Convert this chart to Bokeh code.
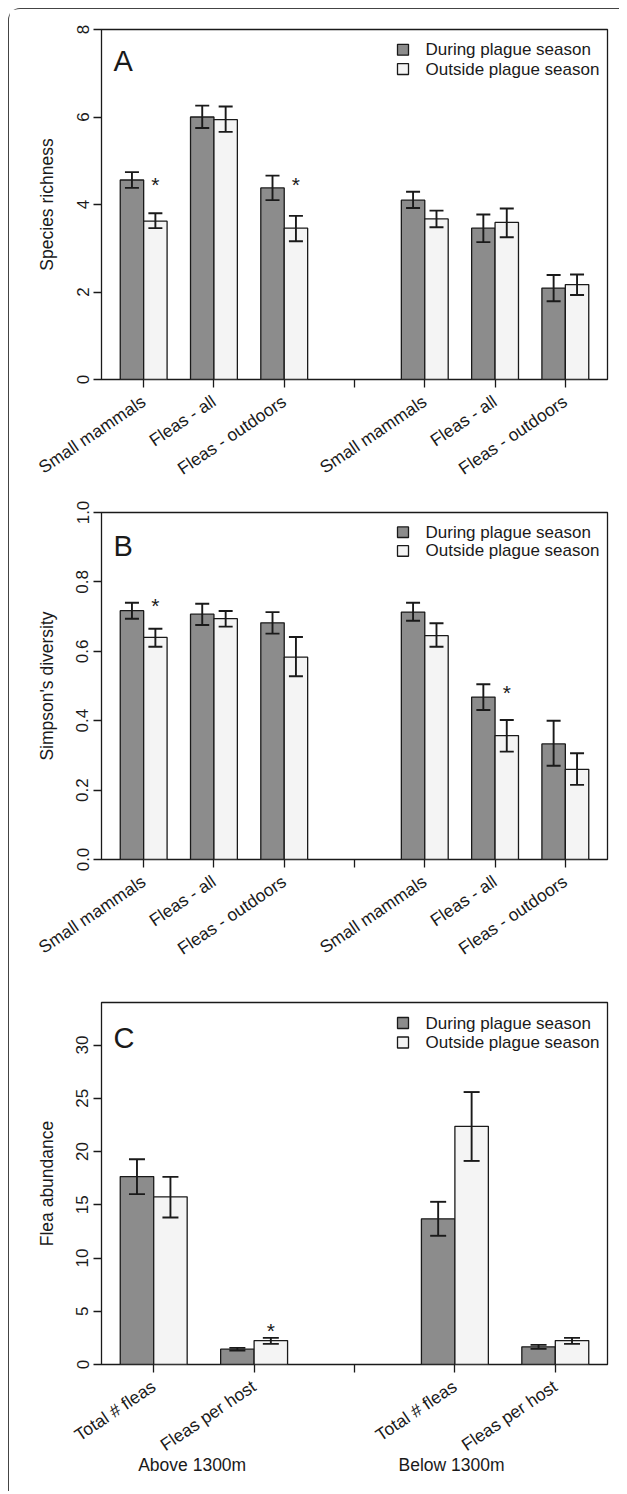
import math
from bokeh.plotting import figure
from bokeh.models import Range1d, FixedTicker, LinearAxis, CustomJSTickFormatter
from bokeh.layouts import column
from bokeh.embed import file_html
from bokeh.resources import INLINE
from bokeh.core.properties import value

FONT = "Liberation Sans"
DARK = "#8c8c8c"
LIGHT = "#f4f4f4"
INK = "#1a1a1a"

series_names = ["During plague season", "Outside plague season"]

# ---------------- Panel A : species richness ----------------
a_categories = ["Small mammals", "Fleas - all", "Fleas - outdoors", "",
                "Small mammals", "Fleas - all", "Fleas - outdoors"]
a_during = [4.56, 6.00, 4.38, None, 4.10, 3.46, 2.09]
a_during_lo = [4.38, 5.75, 4.10, None, 3.92, 3.14, 1.79]
a_during_hi = [4.74, 6.26, 4.66, None, 4.29, 3.77, 2.39]
a_outside = [3.62, 5.94, 3.46, None, 3.67, 3.59, 2.17]
a_outside_lo = [3.46, 5.66, 3.16, None, 3.48, 3.25, 1.93]
a_outside_hi = [3.80, 6.24, 3.74, None, 3.86, 3.91, 2.40]
a_star_group = [0, 2]
a_star_y = [4.57, 4.57]
a_yticks = [0, 2, 4, 6, 8]

# ---------------- Panel B : Simpson's diversity ----------------
b_categories = a_categories
b_during = [0.717, 0.707, 0.682, None, 0.713, 0.468, 0.333]
b_during_lo = [0.694, 0.676, 0.651, None, 0.688, 0.431, 0.270]
b_during_hi = [0.740, 0.737, 0.713, None, 0.740, 0.505, 0.400]
b_outside = [0.640, 0.694, 0.583, None, 0.645, 0.357, 0.260]
b_outside_lo = [0.613, 0.671, 0.528, None, 0.613, 0.311, 0.215]
b_outside_hi = [0.665, 0.716, 0.641, None, 0.681, 0.402, 0.306]
b_star_group = [0, 5]
b_star_y = [0.747, 0.496]
b_yticks = [0.0, 0.2, 0.4, 0.6, 0.8, 1.0]

# ---------------- Panel C : flea abundance ----------------
c_categories = ["Total # fleas", "Fleas per host", "", "Total # fleas", "Fleas per host"]
c_during = [17.65, 1.44, None, 13.68, 1.66]
c_during_lo = [16.00, 1.31, None, 12.09, 1.47]
c_during_hi = [19.28, 1.56, None, 15.28, 1.84]
c_outside = [15.75, 2.25, None, 22.37, 2.25]
c_outside_lo = [13.80, 1.94, None, 19.12, 1.94]
c_outside_hi = [17.62, 2.50, None, 25.59, 2.50]
c_star_group = [1]
c_star_y = [3.63]
c_yticks = [0, 5, 10, 15, 20, 25, 30]
c_group_labels = ["Above 1300m", "Below 1300m"]
c_group_label_pos = [3.15, 10.9]

AX_FONT = "17.5px"
LEG_FONT = "17px"


def make_panel(cats, dv, dlo, dhi, ov, olo, ohi, star_g, star_y, yticks, ymax,
               ylabel, letter, height, top, bottom, frame_h, cap_px, letter_base,
               decimals=0, group_labels=None, group_pos=None):
    n = len(cats)
    centers = [2 + 3 * i for i in range(n)]
    pad = 0.04 * (3 * n - 1)
    x0, x1 = 1 - pad, 3 * n + pad
    frame_w = 506
    p = figure(width=610, height=height, x_range=Range1d(x0, x1), y_range=Range1d(0, ymax),
               output_backend="svg", toolbar_location=None,
               min_border_left=92, min_border_right=12,
               min_border_top=top, min_border_bottom=bottom)
    p.extra_x_ranges = {"px": Range1d(0, frame_w)}
    p.extra_y_ranges = {"px": Range1d(0, frame_h)}
    p.xgrid.visible = False
    p.ygrid.visible = False
    p.background_fill_color = "white"
    p.border_fill_color = "white"
    p.outline_line_color = INK
    p.outline_line_width = 1.3
    p.outline_line_alpha = 1.0

    idx = [i for i in range(n) if dv[i] is not None]
    xd = [centers[i] - 0.5 for i in idx]
    xo = [centers[i] + 0.5 for i in idx]
    p.vbar(x=xd, top=[dv[i] for i in idx], bottom=0, width=1, fill_color=DARK,
           line_color=INK, line_width=1.3)
    p.vbar(x=xo, top=[ov[i] for i in idx], bottom=0, width=1, fill_color=LIGHT,
           line_color=INK, line_width=1.3)

    cap = cap_px / (frame_w / (x1 - x0))
    for xs, lo, hi in ((xd, [dlo[i] for i in idx], [dhi[i] for i in idx]),
                       (xo, [olo[i] for i in idx], [ohi[i] for i in idx])):
        p.segment(x0=xs, y0=lo, x1=xs, y1=hi, line_color=INK, line_width=1.9)
        p.segment(x0=[x - cap for x in xs], y0=lo, x1=[x + cap for x in xs], y1=lo,
                  line_color=INK, line_width=1.9)
        p.segment(x0=[x - cap for x in xs], y0=hi, x1=[x + cap for x in xs], y1=hi,
                  line_color=INK, line_width=1.9)

    p.text(x=[centers[g] + 0.5 for g in star_g], y=star_y, text=["*"] * len(star_g),
           text_align="center", text_baseline="middle", y_offset=5,
           text_font=value(FONT), text_font_size="21px", text_color=INK)

    # legend (positions in frame pixels)
    ly = [frame_h - 20.5, frame_h - 40]
    p.rect(x=[301.5, 301.5], y=ly, width=11, height=11, fill_color=[DARK, LIGHT],
           line_color=INK, line_width=1.3, x_range_name="px", y_range_name="px")
    p.text(x=[324, 324], y=ly, text=series_names, text_baseline="middle",
           text_font=value(FONT), text_font_size=LEG_FONT, text_color=INK,
           x_range_name="px", y_range_name="px")
    p.text(x=[12], y=[frame_h - letter_base], text=[letter], text_baseline="alphabetic",
           text_font=value(FONT), text_font_size="29px", text_color=INK,
           x_range_name="px", y_range_name="px")

    # axes
    xa = p.xaxis[0]
    xa.ticker = FixedTicker(ticks=centers)
    xa.major_label_overrides = {c: lab for c, lab in zip(centers, cats)}
    xa.major_label_orientation = 34 * math.pi / 180
    xa.major_tick_out = 8
    xa.major_tick_in = 0
    xa.minor_tick_out = 0
    xa.minor_tick_in = 0
    xa.major_tick_line_width = 1.3
    xa.major_tick_line_color = INK
    xa.axis_line_color = None
    xa.major_label_standoff = 12
    xa.major_label_text_font = FONT
    xa.major_label_text_font_size = AX_FONT
    xa.major_label_text_color = INK

    ya = p.yaxis[0]
    ya.ticker = FixedTicker(ticks=yticks)
    ya.formatter = CustomJSTickFormatter(args=dict(d=decimals), code="return tick.toFixed(d);")
    ya.major_label_orientation = "vertical"
    ya.major_tick_out = 8
    ya.major_tick_in = 0
    ya.minor_tick_out = 0
    ya.minor_tick_in = 0
    ya.major_tick_line_width = 1.3
    ya.major_tick_line_color = INK
    ya.axis_line_color = None
    ya.major_label_standoff = 5
    ya.major_label_text_font = FONT
    ya.major_label_text_font_size = "17px"
    ya.major_label_text_color = INK
    ya.axis_label = ylabel
    ya.axis_label_text_font = FONT
    ya.axis_label_text_font_size = AX_FONT
    ya.axis_label_text_font_style = "normal"
    ya.axis_label_text_color = INK
    ya.axis_label_standoff = 17

    if group_labels:
        ga = LinearAxis(ticker=FixedTicker(ticks=group_pos),
                        formatter=CustomJSTickFormatter(
                            args=dict(pos=group_pos, labels=group_labels),
                            code="for (let i = 0; i < pos.length; i++) { if (Math.abs(pos[i] - tick) < 1e-6) return labels[i]; } return '';"))
        ga.axis_line_color = None
        ga.major_tick_out = 0
        ga.major_tick_in = 0
        ga.minor_tick_out = 0
        ga.minor_tick_in = 0
        ga.major_label_standoff = -12
        ga.major_label_text_font = FONT
        ga.major_label_text_font_size = AX_FONT
        ga.major_label_text_color = INK
        p.add_layout(ga, "below")
    return p


pA = make_panel(a_categories, a_during, a_during_lo, a_during_hi, a_outside, a_outside_lo,
                a_outside_hi, a_star_group, a_star_y, a_yticks, 8, "Species richness", "A",
                height=480, top=20, bottom=106, frame_h=354, cap_px=7, letter_base=32)
pB = make_panel(b_categories, b_during, b_during_lo, b_during_hi, b_outside, b_outside_lo,
                b_outside_hi, b_star_group, b_star_y, b_yticks, 1.0, "Simpson's diversity", "B",
                height=480, top=23, bottom=96, frame_h=361, cap_px=7, letter_base=35,
                decimals=1)
pC = make_panel(c_categories, c_during, c_during_lo, c_during_hi, c_outside, c_outside_lo,
                c_outside_hi, c_star_group, c_star_y, c_yticks, 34, "Flea abundance", "C",
                height=522, top=33, bottom=127, frame_h=362, cap_px=8, letter_base=35,
                group_labels=c_group_labels, group_pos=c_group_label_pos)

layout = column(pA, pB, pC, margin=(8, 0, 0, 8),
                styles={"border-left": "1.5px solid #444",
                        "border-top": "1.5px solid #444",
                        "border-top-left-radius": "12px"})

open("out.html", "w").write(file_html(layout, INLINE))
